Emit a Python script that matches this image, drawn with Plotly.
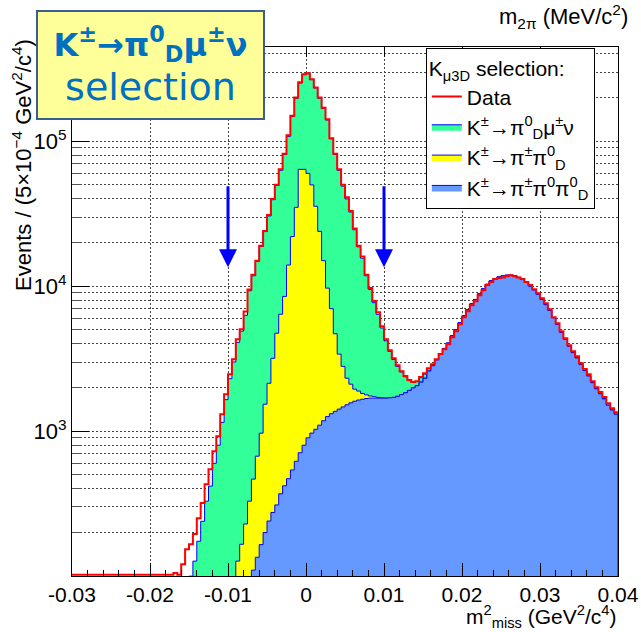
import numpy as np
import plotly.graph_objects as go

# ---------------- data (Events per 5e-4 GeV^2/c^4 bin) ----------------
bin_lo = -0.03
bin_width = 0.0005
n_bins = 140

data_counts = [
    0, 0, 0, 0, 0, 0, 0, 0, 0, 0,
    0, 0, 0, 0, 0, 0, 0, 0, 0, 0,
    0, 5, 10, 15, 25, 45, 105, 80, 121, 153,
    166, 195, 251, 319, 431, 547, 728, 924, 1310, 1800,
    2470, 3140, 4310, 5050, 6700, 9500, 12000, 15000, 19000, 24000,
    31000, 40000, 50000, 64000, 82000, 110000, 150000, 200000, 255000, 290000,
    294000, 268000, 235000, 200000, 170000, 142000, 105000, 82000, 64000, 50000,
    41000, 33000, 25000, 19000, 16000, 12000, 9700, 7900, 6600, 5300,
    4310, 3620, 3190, 2850, 2590, 2400, 2250, 2180, 2210, 2360,
    2510, 2720, 2900, 3140, 3400, 3680, 3980, 4450, 4890, 5470,
    6110, 6720, 7400, 7880, 8670, 9390, 10200, 10700, 11200, 11400,
    11500, 11700, 11900, 11700, 11500, 11200, 10700, 10200, 9530, 8950,
    8270, 7640, 6940, 6110, 5560, 4890, 4380, 3920, 3560, 3290,
    2940, 2680, 2470, 2210, 2010, 1860, 1720, 1560, 1440, 1350,
]

# K± -> pi± pi0 pi0_D  (blue)
mc_k3pi = [
    0, 0, 0, 0, 0, 0, 0, 0, 0, 0,
    0, 0, 0, 0, 0, 0, 0, 0, 0, 0,
    0, 0, 0, 0, 0, 0, 0, 0, 0, 0,
    0, 0, 0, 0, 0, 0, 0, 0, 0, 0,
    0, 0, 0, 0, 0, 0, 110, 135, 165, 200,
    240, 275, 310, 370, 420, 470, 540, 620, 710, 800,
    900, 970, 1030, 1100, 1180, 1260, 1320, 1370, 1420, 1470,
    1520, 1570, 1610, 1640, 1660, 1680, 1690, 1690, 1690, 1690,
    1690, 1700, 1710, 1740, 1790, 1840, 1910, 1990, 2060, 2180,
    2320, 2600, 2830, 3100, 3400, 3720, 4050, 4550, 5000, 5600,
    6250, 6900, 7550, 8100, 8850, 9600, 10300, 10900, 11300, 11600,
    11800, 11900, 11900, 11800, 11500, 11100, 10600, 10000, 9400, 8800,
    8100, 7450, 6800, 6050, 5450, 4800, 4300, 3850, 3480, 3200,
    2880, 2620, 2400, 2160, 1960, 1810, 1670, 1510, 1400, 1310,
]

# K± -> pi± pi0_D  (yellow)
mc_k2pi = [
    0, 0, 0, 0, 0, 0, 0, 0, 0, 0,
    0, 0, 0, 0, 0, 0, 0, 0, 0, 0,
    0, 0, 0, 0, 0, 0, 0, 0, 0, 0,
    0, 0, 0, 0, 0, 0, 0, 0, 0, 0,
    0, 0, 127, 166, 229, 329, 357, 537, 804, 1335,
    1900, 2905, 4430, 6040, 8080, 13530, 21460, 34380, 63290, 63200,
    59100, 49030, 34570, 22800, 13820, 8440, 5680, 3330, 1980, 1330,
    800, 540, 340, 250, 160, 100, 60, 40, 20, 10,
    0, 0, 0, 0, 0, 0, 0, 0, 0, 0,
    0, 0, 0, 0, 0, 0, 0, 0, 0, 0,
    0, 0, 0, 0, 0, 0, 0, 0, 0, 0,
    0, 0, 0, 0, 0, 0, 0, 0, 0, 0,
    0, 0, 0, 0, 0, 0, 0, 0, 0, 0,
    0, 0, 0, 0, 0, 0, 0, 0, 0, 0,
]

# K± -> pi0_D mu± nu  (green)
mc_kmu3 = [
    0, 0, 0, 0, 0, 0, 0, 0, 0, 0,
    0, 0, 0, 0, 0, 0, 0, 0, 0, 0,
    0, 0, 0, 0, 0, 0, 0, 0, 0, 60,
    100, 127, 174, 239, 329, 418, 600, 800, 1150, 1650,
    2300, 3000, 3970, 4730, 6070, 8970, 11330, 14130, 17830, 22270,
    28360, 36320, 44760, 56590, 72500, 94000, 126000, 163000, 188000, 224000,
    232000, 216000, 197400, 174100, 153000, 130300, 97000, 76300, 59600, 46200,
    37680, 30390, 22550, 16810, 13780, 10020, 7750, 5970, 4690, 3450,
    2510, 1850, 1410, 1060, 770, 530, 320, 180, 140, 160,
    160, 100, 0, 0, 0, 0, 0, 0, 0, 0,
    0, 0, 0, 0, 0, 0, 0, 0, 0, 0,
    0, 0, 0, 0, 0, 0, 0, 0, 0, 0,
    0, 0, 0, 0, 0, 0, 0, 0, 0, 0,
    0, 0, 0, 0, 0, 0, 0, 0, 0, 0,
]

x_tick_vals = [-0.03, -0.02, -0.01, 0, 0.01, 0.02, 0.03, 0.04]
x_tick_text = ["-0.03", "-0.02", "-0.01", "0", "0.01", "0.02", "0.03", "0.04"]
y_tick_vals = [1e3, 1e4, 1e5]
y_tick_text = ["10<sup>3</sup>", "10<sup>4</sup>", "10<sup>5</sup>"]
cut_positions = [-0.01, 0.01]

# ---------------- build figure ----------------
edges = bin_lo + bin_width * np.arange(n_bins + 1)
Y_LO, Y_HI = 2.001, 5.65
FLOOR = 1.0

blue = np.array(mc_k3pi, float)
yel = np.array(mc_k2pi, float)
grn = np.array(mc_kmu3, float)
c1 = blue
c2 = blue + yel
c3 = c2 + grn


def step_poly(vals):
    v = np.where(vals > 0, vals, FLOOR)
    xs = np.concatenate([edges, [edges[-1], edges[0]]])
    ys = np.concatenate([v, [v[-1], FLOOR, FLOOR]])
    return xs, ys


FONT = "Liberation Sans, Arial, sans-serif"
fig = go.Figure()

for vals, fillc, name, rank in [
    (c3, "#33FF99", "K<sup>±</sup>→π<sup>0</sup><sub>D</sub>μ<sup>±</sup>ν", 2),
    (c2, "#FFFF00", "K<sup>±</sup>→π<sup>±</sup>π<sup>0</sup><sub>D</sub>", 3),
    (c1, "#6699FF", "K<sup>±</sup>→π<sup>±</sup>π<sup>0</sup>π<sup>0</sup><sub>D</sub>", 4),
]:
    xs, ys = step_poly(vals)
    fig.add_trace(go.Scatter(
        x=xs, y=ys, mode="lines", line=dict(color="#0000FF", width=1, shape="hv"),
        fill="toself", fillcolor=fillc, name=name, legendrank=rank, hoverinfo="skip"))

# values below the axis minimum are drawn on the bottom edge (as ROOT does)
d = np.clip(np.array(data_counts, float), 10 ** (Y_LO + 0.008), None)
fig.add_trace(go.Scatter(
    x=edges, y=np.concatenate([d, [d[-1]]]), mode="lines",
    line=dict(color="#FF0000", width=2, shape="hv"), name="Data", legendrank=1))

# invisible trace for the top (m_2pi) axis
fig.add_trace(go.Scatter(x=[-0.03], y=[FLOOR], xaxis="x2", mode="markers",
                         marker=dict(opacity=0), showlegend=False, hoverinfo="skip"))

minor_y = [m * 10 ** e for e in (2, 3, 4) for m in range(2, 10)] + [2e5, 3e5, 4e5]

fig.update_layout(
    width=641, height=632,
    margin=dict(l=72, r=23, t=47, b=56, autoexpand=False),
    paper_bgcolor="white", plot_bgcolor="white",
    font=dict(family=FONT, color="black"),
    showlegend=True,
    legend=dict(
        x=0.648, y=0.998, xanchor="left", yanchor="top",
        bgcolor="white", bordercolor="black", borderwidth=1,
        font=dict(size=21, family=FONT),
        title=dict(text="K<sub>μ3D</sub> selection:", font=dict(size=21, family=FONT)),
        traceorder="normal", tracegroupgap=0,
    ),
    xaxis=dict(
        range=[-0.03, 0.04], tickmode="array", tickvals=x_tick_vals, ticktext=x_tick_text,
        ticks="inside", ticklen=13, tickwidth=1, tickcolor="black",
        tickfont=dict(size=21, family=FONT), automargin=False,
        showline=True, linecolor="black", linewidth=1, mirror=True,
        showgrid=True, gridcolor="#444444", gridwidth=1, griddash="2px,2px",
        zeroline=False,
        minor=dict(dtick=0.002, ticks="inside", ticklen=6, tickcolor="black", showgrid=False),
    ),
    xaxis2=dict(
        overlaying="x", side="top", anchor="y", range=[-0.03, 0.04], automargin=False,
        tickvals=[0, 0.01, 0.02, 0.03], ticks="inside", ticklen=10, tickcolor="black",
        showticklabels=False, showgrid=False, showline=False, zeroline=False,
    ),
    yaxis=dict(
        type="log", range=[Y_LO, Y_HI], tickmode="array",
        tickvals=y_tick_vals, ticktext=y_tick_text,
        ticks="inside", ticklen=17, tickwidth=1, tickcolor="black",
        tickfont=dict(size=22, family=FONT), automargin=False,
        showline=True, linecolor="black", linewidth=1, mirror=True,
        showgrid=True, gridcolor="#444444", gridwidth=1, griddash="2px,2px",
        zeroline=False,
        minor=dict(tickmode="array", tickvals=minor_y, ticks="inside", ticklen=9,
                   tickcolor="#555555", showgrid=True, gridcolor="#444444",
                   griddash="2px,2px", gridwidth=1),
    ),
)

annots = []
# cut arrows
for xc in cut_positions:
    annots.append(dict(
        x=xc, y=np.log10(13500), ax=xc, ay=np.log10(50000), xref="x", yref="y",
        axref="x", ayref="y", text="", showarrow=True, arrowhead=2, arrowsize=1.2,
        arrowwidth=3, arrowcolor="#0000FF"))

# selection box
annots.append(dict(
    x=-0.066, y=1.070, xref="paper", yref="paper", xanchor="left", yanchor="top",
    text=("<span style='font-size:32px'><b>K<sup>±</sup>→π<sup>0</sup><sub>D</sub>"
          "μ<sup>±</sup>ν</b></span><br><span style='font-size:38px'>selection</span>"),
    showarrow=False, align="center", valign="middle", width=225, height=106,
    bgcolor="#FFFF99", bordercolor="#3A5F8C", borderwidth=2, borderpad=0,
    font=dict(family="DejaVu Sans, Verdana, sans-serif", size=34, color="#0070C0")))

# axis titles
annots.append(dict(
    x=-0.0916, y=0.777, xref="paper", yref="paper", xanchor="center", yanchor="middle",
    textangle=-90, showarrow=False,
    text="Events / (5×10<sup>−4</sup> GeV<sup>2</sup>/c<sup>4</sup>)",
    font=dict(size=22, family=FONT)))
annots.append(dict(
    x=1.0, y=-0.076, xref="paper", yref="paper", xanchor="right", yanchor="middle",
    showarrow=False, text="m<sup>2</sup><sub>miss</sub> (GeV<sup>2</sup>/c<sup>4</sup>)",
    font=dict(size=21, family=FONT)))
annots.append(dict(
    x=1.022, y=1.057, xref="paper", yref="paper", xanchor="right", yanchor="middle",
    showarrow=False, text="m<sub>2π</sub> (MeV/c<sup>2</sup>)",
    font=dict(size=22, family=FONT)))
# slide footer (cut off at the bottom)
annots.append(dict(
    x=-0.123, y=-0.098, xref="paper", yref="paper", xanchor="left", yanchor="top",
    showarrow=False, text="2017", font=dict(size=20, family=FONT, color="#0070C0")))

fig.update_layout(annotations=annots)
fig.write_html("out.html")
